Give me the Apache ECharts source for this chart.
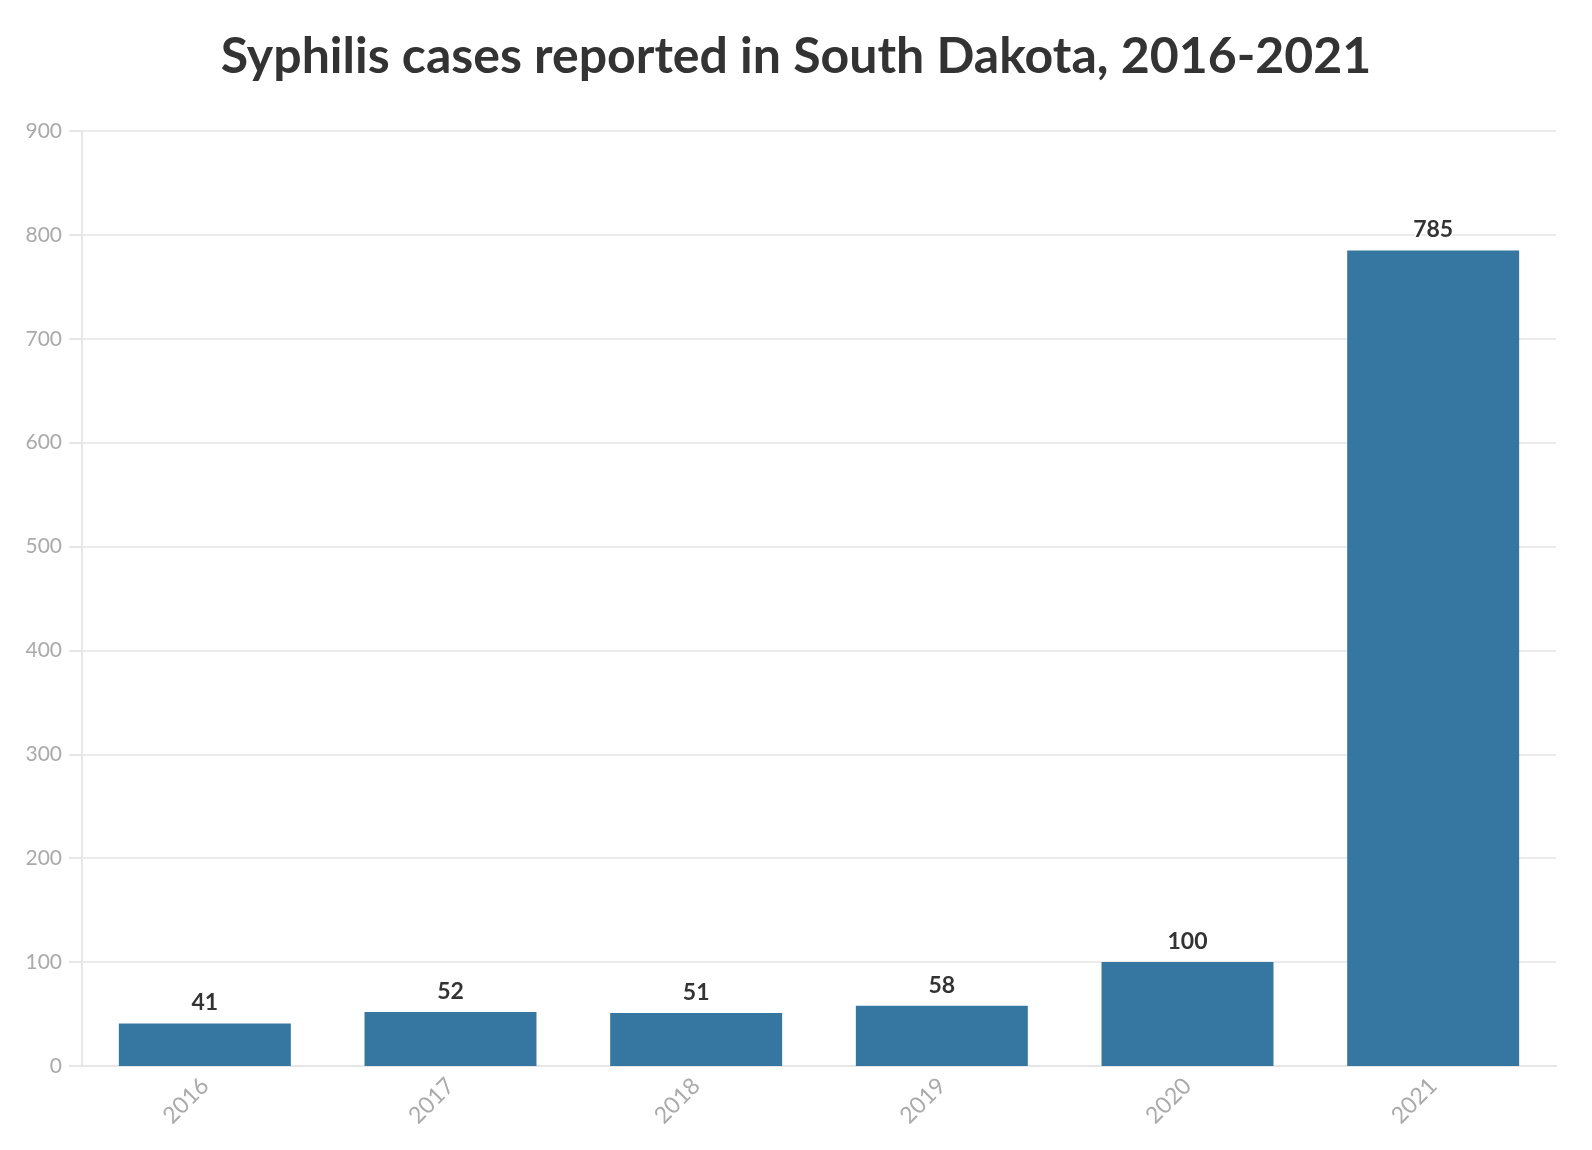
<!DOCTYPE html>
<html>
<head>
<meta charset="utf-8">
<script src="https://cdn.jsdelivr.net/npm/echarts@6/dist/echarts.min.js"></script>
<style>
html, body { margin: 0; padding: 0; background: #fff; }
#chart { width: 1592px; height: 1150px; }
</style>
</head>
<body>
<div id="chart"></div>
<script>
var years = ['2016', '2017', '2018', '2019', '2020', '2021'];
var cases = [41, 52, 51, 58, 100, 785];
var yMax = 900;
var yStep = 100;

var chart = echarts.init(document.getElementById('chart'));
var option = {
	backgroundColor: '#fff',
	title: {
		text: 'Syphilis cases reported in South Dakota, 2016-2021',
		left: 'center',
		top: 27,
		textStyle: {
			fontFamily: 'Lato',
			fontWeight: 'bold',
			fontSize: 50,
			color: '#333'
		}
	},
	grid: {
		left: 82,
		right: 36,
		top: 131,
		bottom: 84
	},
	xAxis: {
		type: 'category',
		data: years,
		axisLine: { lineStyle: { color: '#e6e6e6', width: 2 } },
		axisTick: { alignWithLabel: true, length: 12, lineStyle: { color: '#e0e0e0', width: 3 } },
		axisLabel: {
			rotate: 45,
			color: '#aaaaaa',
			fontFamily: 'Lato',
			fontSize: 23,
			margin: 16
		}
	},
	yAxis: {
		type: 'value',
		min: 0,
		max: yMax,
		interval: yStep,
		axisLine: { show: true, lineStyle: { color: '#e6e6e6', width: 2 } },
		axisTick: { show: true, length: 13, lineStyle: { color: '#e6e6e6', width: 2 } },
		splitLine: { lineStyle: { color: '#ebebeb', width: 2 } },
		axisLabel: {
			color: '#aaaaaa',
			fontFamily: 'Lato',
			fontSize: 21,
			margin: 20
		}
	},
	series: [{
		type: 'bar',
		data: cases,
		barWidth: '70%',
		itemStyle: { color: '#3577a0' },
		label: {
			show: true,
			position: 'top',
			distance: 9,
			color: '#333',
			fontFamily: 'Lato',
			fontWeight: 'bold',
			fontSize: 23,
			textBorderColor: '#fff',
			textBorderWidth: 3
		}
	}]
};
chart.setOption(option);
</script>
</body>
</html>
